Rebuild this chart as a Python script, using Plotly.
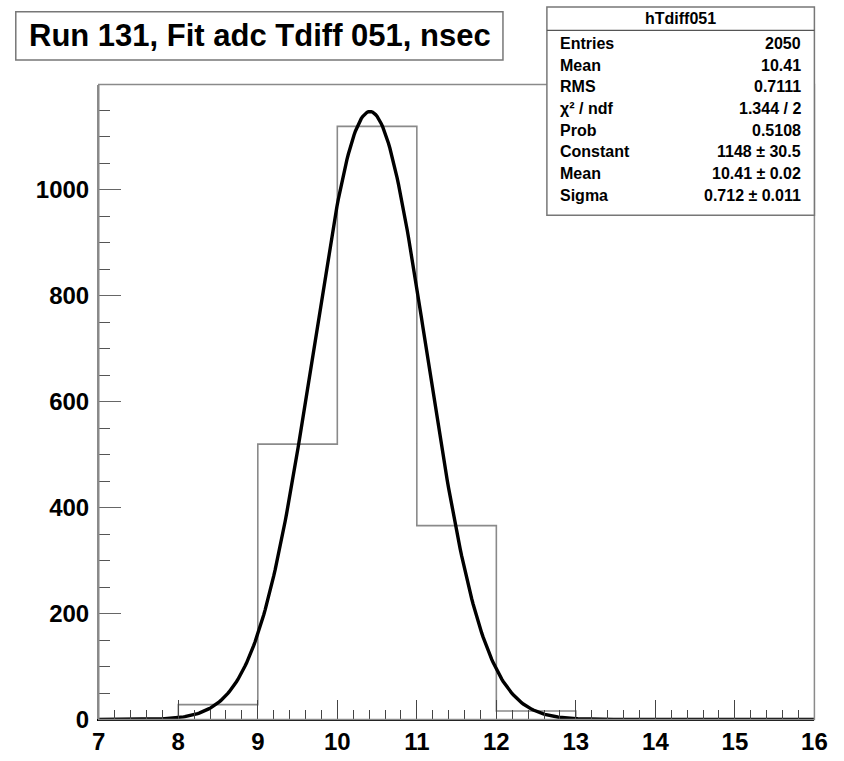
import numpy as np
import plotly.graph_objects as go

# ---- data ----
bin_edges = [7, 8, 9, 10, 11, 12, 13, 14, 15, 16]
bin_counts = [0, 28, 520, 1120, 366, 16, 0, 0, 0]
fit_constant = 1148.0
fit_mean = 10.41
fit_sigma = 0.712

title_text = "Run 131, Fit adc Tdiff 051, nsec"
stats_name = "hTdiff051"
stats_labels = ["Entries", "Mean", "RMS", "χ² / ndf", "Prob", "Constant", "Mean", "Sigma"]
stats_values = ["2050", "10.41", "0.7111", "1.344 / 2", "0.5108", "1148 ± 30.5", "10.41 ± 0.02", "0.712 ± 0.011"]

W, H = 844, 761
FONT = "Liberation Sans"


def px(x):
    return x / W


def py(y):
    return 1 - y / H


# fit function evaluated on a fine grid over the histogram range
xf = np.linspace(bin_edges[0], bin_edges[-1], 500)
yf = fit_constant * np.exp(-0.5 * ((xf - fit_mean) / fit_sigma) ** 2)

fig = go.Figure()
fig.add_trace(go.Scatter(
    x=bin_edges, y=bin_counts + [bin_counts[-1]], mode="lines",
    line=dict(shape="hv", color="#8a8a8a", width=1.6), hoverinfo="skip"))
fig.add_trace(go.Scatter(
    x=xf, y=yf, mode="lines", line=dict(color="black", width=3.4), hoverinfo="skip"))

shapes = []
# frame (top/right)
shapes.append(dict(type="rect", xref="paper", yref="paper",
                   x0=px(94), x1=px(827), y0=py(732), y1=py(86),
                   line=dict(color="#8a8a8a", width=1.5), fillcolor="rgba(0,0,0,0)", layer="above"))
# title box
shapes.append(dict(type="rect", xref="paper", yref="paper",
                   x0=px(9), x1=px(508), y0=py(61), y1=py(12),
                   line=dict(color="#777777", width=1.5), fillcolor="white", layer="above"))
# stats box
shapes.append(dict(type="rect", xref="paper", yref="paper",
                   x0=px(553), x1=px(827), y0=py(219), y1=py(7),
                   line=dict(color="#777777", width=1.5), fillcolor="white", layer="above"))
shapes.append(dict(type="line", xref="paper", yref="paper",
                   x0=px(553), x1=px(827), y0=py(31), y1=py(31),
                   line=dict(color="#555555", width=1.2), layer="above"))

ann = []
ann.append(dict(text=title_text, xref="paper", yref="paper", x=px(259), y=py(36),
                xanchor="center", yanchor="middle", showarrow=False,
                font=dict(family=FONT, size=31, color="black", weight="bold")))
ann.append(dict(text=stats_name, xref="paper", yref="paper", x=px(690), y=py(19),
                xanchor="center", yanchor="middle", showarrow=False,
                font=dict(family=FONT, size=16, color="black", weight="bold")))
row_y = [44, 66.5, 88.5, 110, 132.5, 154.5, 176.5, 199]
for lab, val, yy in zip(stats_labels, stats_values, row_y):
    ann.append(dict(text=lab, xref="paper", yref="paper", x=px(564), y=py(yy),
                    xanchor="left", yanchor="middle", showarrow=False,
                    font=dict(family=FONT, size=16, color="black", weight="bold")))
    ann.append(dict(text=val, xref="paper", yref="paper", x=px(815), y=py(yy),
                    xanchor="right", yanchor="middle", showarrow=False,
                    font=dict(family=FONT, size=16, color="black", weight="bold")))

fig.update_layout(
    width=W, height=H, margin=dict(l=0, r=0, t=0, b=0),
    paper_bgcolor="white", plot_bgcolor="white", showlegend=False,
    shapes=shapes, annotations=ann,
    xaxis=dict(domain=[px(94), px(827)], range=[7, 16], showgrid=False, zeroline=False,
               showline=True, linecolor="black", linewidth=1.5,
               tickmode="linear", tick0=7, dtick=1, ticks="inside", ticklen=20,
               tickcolor="#444444", tickwidth=1.3,
               minor=dict(dtick=0.2, ticks="inside", ticklen=10, tickcolor="#444444", tickwidth=1.3),
               tickfont=dict(family=FONT, size=24, color="black", weight="bold")),
    yaxis=dict(domain=[py(732), py(86)], range=[0, 1199], showgrid=False, zeroline=False,
               showline=True, linecolor="#8a8a8a", linewidth=1.5,
               tickmode="linear", tick0=0, dtick=200, ticks="inside", ticklen=22,
               tickcolor="#666666", tickwidth=1.3, ticklabelstandoff=3,
               minor=dict(dtick=50, ticks="inside", ticklen=11, tickcolor="#555555", tickwidth=1.3),
               tickfont=dict(family=FONT, size=24, color="black", weight="bold")),
)

fig.write_html("out.html", config={"displayModeBar": False},
               post_script="document.body.style.margin='0px';document.body.style.overflow='hidden';")
